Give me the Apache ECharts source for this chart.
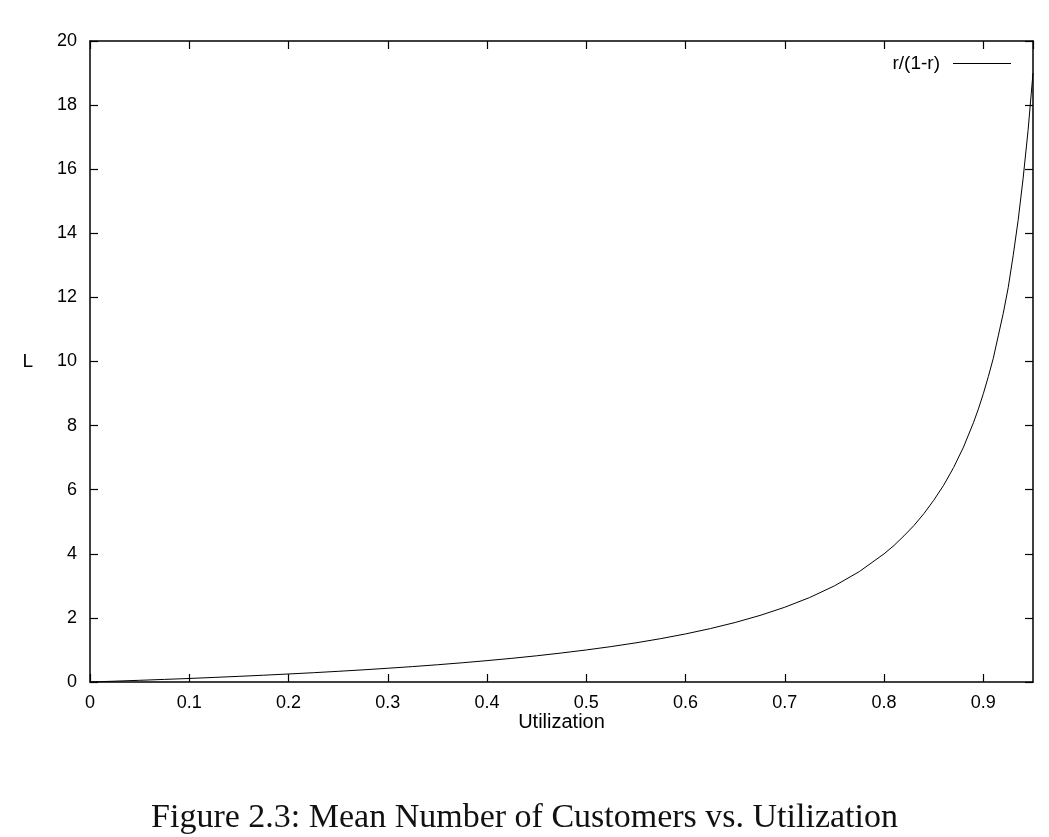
<!DOCTYPE html>
<html lang="en">
<head>
    <meta charset="UTF-8">
    <title>Mean Number of Customers vs. Utilization</title>
    <script src="https://cdn.jsdelivr.net/npm/echarts@6/dist/echarts.min.js"></script>
    <style>
        html, body{
            margin: 0;
            padding: 0;
            background: #fff;
        }
        #main{
            width: 1049px;
            height: 837px;
        }
    </style>
</head>
<body>
<div id="main"></div>
<script>
    // utilization values
    var utilization = [0, 0.025, 0.05, 0.075, 0.1, 0.125, 0.15, 0.175, 0.2, 0.225, 0.25, 0.275,
        0.3, 0.325, 0.35, 0.375, 0.4, 0.425, 0.45, 0.475, 0.5, 0.525, 0.55, 0.575, 0.6, 0.625,
        0.65, 0.675, 0.7, 0.725, 0.75, 0.775, 0.8, 0.81, 0.82, 0.83, 0.84, 0.85, 0.86, 0.87,
        0.88, 0.89, 0.895, 0.9, 0.905, 0.91, 0.915, 0.92, 0.925, 0.93, 0.935, 0.94, 0.945, 0.95];
    // mean number of customers L at each utilization
    var customers = [0, 0.026, 0.053, 0.081, 0.11, 0.143, 0.176, 0.212, 0.25, 0.29, 0.333, 0.379,
        0.429, 0.481, 0.538, 0.6, 0.667, 0.739, 0.818, 0.905, 1.0, 1.105, 1.222, 1.353, 1.5, 1.667,
        1.857, 2.077, 2.333, 2.636, 3.0, 3.444, 4.0, 4.26, 4.56, 4.88, 5.25, 5.67, 6.14, 6.69,
        7.33, 8.09, 8.52, 9.0, 9.53, 10.1, 10.8, 11.5, 12.3, 13.3, 14.4, 15.7, 17.2, 19.0];
    var xTicks = [0, 0.1, 0.2, 0.3, 0.4, 0.5, 0.6, 0.7, 0.8, 0.9];
    var yTicks = [0, 2, 4, 6, 8, 10, 12, 14, 16, 18, 20];

    var points = [];
    for (var i = 0; i < utilization.length; i++) {
        points.push([utilization[i], customers[i]]);
    }

    var font = 'Liberation Sans';
    var axisLine = {show: true, onZero: false, lineStyle: {color: '#000', width: 1.5}};
    var axisTick = {show: true, inside: true, length: 8, lineStyle: {color: '#000', width: 1.2}};

    // only label the ticks listed above, hide the 0.95 end tick
    function xLabel(v) {
        for (var k = 0; k < xTicks.length; k++) {
            if (Math.abs(xTicks[k] - v) < 1e-6) return String(xTicks[k]);
        }
        return '';
    }

    var option = {
        animation: false,
        title: {
            text: 'Figure 2.3: Mean Number of Customers vs. Utilization',
            left: 'center',
            top: 796,
            textStyle: {
                fontFamily: 'Liberation Serif',
                fontWeight: 'normal',
                fontSize: 34,
                color: '#111'
            }
        },
        legend: {
            data: ['r/(1-r)'],
            right: 33,
            top: 49,
            align: 'right',
            icon: 'rect',
            itemWidth: 58,
            itemHeight: 1.2,
            textStyle: {
                fontFamily: font,
                fontSize: 19,
                color: '#000',
                padding: [0, 8, 0, 0]
            }
        },
        grid: {
            left: 90,
            right: 16,
            top: 41,
            bottom: 155
        },
        xAxis: [
            {
                type: 'value',
                min: 0,
                max: 0.95,
                interval: 0.1,
                name: 'Utilization',
                nameLocation: 'middle',
                nameGap: 30,
                nameMoveOverlap: false,
                nameTextStyle: {fontFamily: font, fontSize: 20, color: '#000'},
                axisLine: axisLine,
                axisTick: axisTick,
                splitLine: {show: false},
                axisLabel: {
                    fontFamily: font,
                    fontSize: 18,
                    color: '#000',
                    margin: 12,
                    showMaxLabel: false,
                    formatter: xLabel
                }
            },
            {
                type: 'value',
                position: 'top',
                min: 0,
                max: 0.95,
                interval: 0.1,
                axisLine: axisLine,
                axisTick: axisTick,
                splitLine: {show: false},
                axisLabel: {show: false}
            }
        ],
        yAxis: [
            {
                type: 'value',
                min: 0,
                max: 20,
                interval: 2,
                name: 'L',
                nameLocation: 'middle',
                nameRotate: 0,
                nameGap: 57,
                nameMoveOverlap: false,
                nameTextStyle: {fontFamily: font, fontSize: 19, color: '#000', padding: [8, 0, 0, 0]},
                axisLine: axisLine,
                axisTick: axisTick,
                splitLine: {show: false},
                axisLabel: {
                    fontFamily: font,
                    fontSize: 18,
                    color: '#000',
                    margin: 13
                }
            },
            {
                type: 'value',
                position: 'right',
                min: 0,
                max: 20,
                interval: 2,
                axisLine: axisLine,
                axisTick: axisTick,
                splitLine: {show: false},
                axisLabel: {show: false}
            }
        ],
        series: [
            {
                name: 'r/(1-r)',
                type: 'line',
                xAxisIndex: 0,
                yAxisIndex: 0,
                symbol: 'none',
                smooth: false,
                lineStyle: {color: '#000', width: 1},
                itemStyle: {color: '#000'},
                data: points
            }
        ]
    };
    var myChart = echarts.init(document.getElementById('main'));
    myChart.setOption(option);
</script>
</body>
</html>
